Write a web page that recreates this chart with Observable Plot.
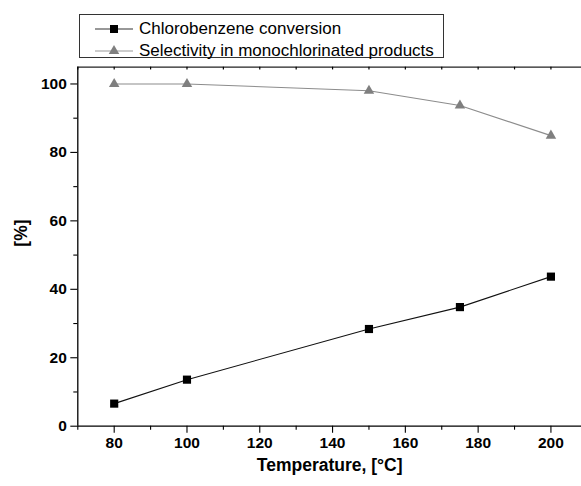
<!DOCTYPE html>
<html>
<head>
<meta charset="utf-8">
<script src="https://cdn.jsdelivr.net/npm/d3@7"></script>
<script src="https://cdn.jsdelivr.net/npm/@observablehq/plot@0.6"></script>
<style>
  html, body { margin: 0; padding: 0; background: #fff; }
  body { width: 581px; height: 486px; overflow: hidden; position: relative; font-family: "Liberation Sans", Arial, Helvetica, sans-serif; }
  #legend { position: absolute; left: 79px; top: 14px; width: 365px; height: 44px; border: 1px solid #333; background: #fff; box-sizing: border-box; }
  .row { position: absolute; left: 0; height: 22px; display: flex; align-items: center; font-size: 17px; color: #000; white-space: nowrap; }
  .row svg { margin-left: 15px; margin-right: 6px; }
</style>
</head>
<body>
<div id="chart"></div>
<div id="legend"></div>
<script>
const temperature = [80, 100, 150, 175, 200];
const conversion = [6.6, 13.6, 28.4, 34.8, 43.7];
const selectivity = [100, 100, 98.0, 93.7, 84.9];
const seriesNames = ["Chlorobenzene conversion", "Selectivity in monochlorinated products"];
const xMajorTicks = [80, 100, 120, 140, 160, 180, 200];
const xMinorTicks = [70, 90, 110, 130, 150, 170, 190];
const yMajorTicks = [0, 20, 40, 60, 80, 100];
const yMinorTicks = [10, 30, 50, 70, 90];
const xDomain = [70, 208.4];
const yDomain = [0, 104.9];
const xLabel = "Temperature, [°C]";
const yLabel = "[%]";

const convData = temperature.map((t, i) => ({t, v: conversion[i]}));
const selData = temperature.map((t, i) => ({t, v: selectivity[i]}));
const allXTicks = [...xMajorTicks, ...xMinorTicks];

const font = '"Liberation Sans", Arial, Helvetica, sans-serif';

const chart = Plot.plot({
  width: 581,
  height: 486,
  marginLeft: 77.3,
  marginRight: 0,
  marginTop: 66.7,
  marginBottom: 60.3,
  style: {fontFamily: font, background: "#fff", overflow: "visible"},
  x: {domain: xDomain},
  y: {domain: yDomain},
  marks: [
    Plot.ruleX([xDomain[0]], {stroke: "#000", strokeWidth: 1.3}),
    Plot.ruleY([yDomain[0]], {stroke: "#000", strokeWidth: 1.3}),
    Plot.ruleY([yDomain[1]], {stroke: "#222", strokeWidth: 1.3}),
    Plot.ruleX(allXTicks, {x: d => d, y1: yDomain[1], y2: yDomain[1] - 0.8, stroke: "#000", strokeWidth: 1.2}),
    Plot.axisY({ticks: yMajorTicks, tickSize: 7, tickPadding: 4, fontSize: 15.5, fontWeight: "bold", label: null, stroke: "#000", strokeWidth: 1.1}),
    Plot.axisY({ticks: yMinorTicks, tickSize: 4, text: null, label: null, stroke: "#000", strokeWidth: 1.1}),
    Plot.axisX({ticks: xMajorTicks, tickSize: 7, tickPadding: 4, fontSize: 15.5, fontWeight: "bold", label: null, stroke: "#000", strokeWidth: 1.1}),
    Plot.axisX({ticks: xMinorTicks, tickSize: 4, text: null, label: null, stroke: "#000", strokeWidth: 1.1}),
    Plot.text([xLabel], {frameAnchor: "bottom", dy: 45, fontSize: 17.5, fontWeight: "bold", fill: "#000"}),
    Plot.text([yLabel], {frameAnchor: "left", dx: -56, rotate: -90, fontSize: 17.5, fontWeight: "bold", fill: "#000"}),
    Plot.line(selData, {x: "t", y: "v", stroke: "#8c8c8c", strokeWidth: 1.1}),
    Plot.dot(selData, {x: "t", y: "v", symbol: "triangle", r: 3.9, fill: "#7f7f7f", stroke: "none"}),
    Plot.line(convData, {x: "t", y: "v", stroke: "#111", strokeWidth: 1.1}),
    Plot.dot(convData, {x: "t", y: "v", symbol: "square", r: 4.6, fill: "#000", stroke: "none"})
  ]
});
document.getElementById("chart").appendChild(chart);

const legend = document.getElementById("legend");
const legendStyles = [
  {line: "#333", fill: "#000", symbol: d3.symbolSquare, size: 64},
  {line: "#999", fill: "#7f7f7f", symbol: d3.symbolTriangle, size: 48}
];
seriesNames.forEach((name, i) => {
  const row = document.createElement("div");
  row.className = "row";
  row.style.top = (3 + i * 22) + "px";
  const st = legendStyles[i];
  const path = d3.symbol(st.symbol, st.size)();
  row.innerHTML = `<svg width="38" height="20"><line x1="0" x2="38" y1="10" y2="10" stroke="${st.line}" stroke-width="1.2"/><path transform="translate(19,10)" d="${path}" fill="${st.fill}"/></svg><span>${name}</span>`;
  legend.appendChild(row);
});
</script>
</body>
</html>
